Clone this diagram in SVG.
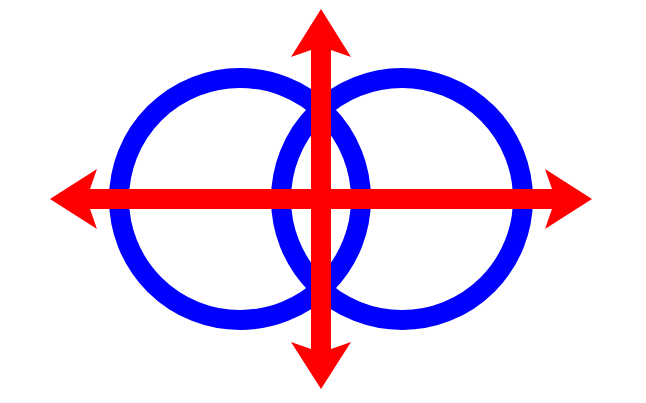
<svg xmlns="http://www.w3.org/2000/svg" width="646" height="403" viewBox="0 0 646 403">
<style>
.ring{fill:none;stroke:#0000ff;stroke-width:20}
.shaft{fill:none;stroke:#ff0000;stroke-width:20}
.head{fill:#ff0000;stroke:none}
</style>
<rect width="646" height="403" fill="#ffffff"/>
<g id="ring-left"><circle class="ring" cx="240" cy="199" r="121"/></g>
<g id="ring-right"><circle class="ring" cx="402" cy="199" r="121"/></g>
<g id="connectors">
<line class="shaft" x1="321" y1="45" x2="321" y2="352"/>
<line class="shaft" x1="85" y1="199" x2="556" y2="199"/>
<polygon class="head" points="321,9 351,57 331,50 311,50 291,57"/>
<polygon class="head" points="321,389 351,342 331,349 311,349 291,342"/>
<polygon class="head" points="50,199 97,169 90,189 90,209 97,229"/>
<polygon class="head" points="592,199 545,169 552,189 552,209 545,229"/>
</g>
</svg>
